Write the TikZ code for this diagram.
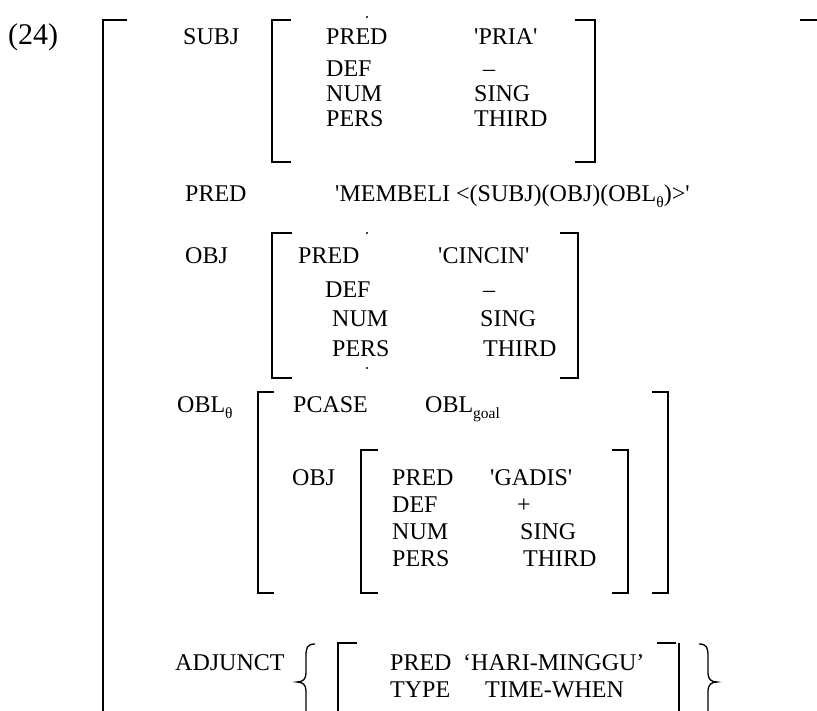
\documentclass[tikz,border=0pt]{standalone}
\usepackage{fontspec}
\setmainfont{Liberation Serif}[Ligatures=TeXOff]
% small lowered index, as in OBL with theta / goal
\newcommand\fsub[1]{\raisebox{-0.22em}{\fontsize{15.5}{15.5}\selectfont #1}}
% square bracket halves: x of the bar, top y, bottom y, x where the ticks end
\newcommand\leftbrk[4]{\draw[brk] (#4,#2) -- (#1,#2) -- (#1,#3) -- (#4,#3);}
\newcommand\rightbrk[4]{\draw[brk] (#4,#2) -- (#1,#2) -- (#1,#3) -- (#4,#3);}
\begin{document}
\begin{tikzpicture}[x=1pt,y=-1pt,
  txt/.style={anchor=base west, inner sep=0pt, font=\fontsize{24}{28}\selectfont},
  brk/.style={line width=1.5pt, line cap=butt, line join=miter},
  speck/.style={fill=black}]
\useasboundingbox (0,0) rectangle (817,711);

% example number and outer f-structure bracket
\node[txt, font=\fontsize{30}{34}\selectfont] (num) at (8,45) {(24)};
\draw[brk] (127,20) -- (103,20) -- (103,720);
\draw[brk] (800,20) -- (818,20) -- (818,720);

% SUBJ
\node[txt] (subj) at (183,45) {SUBJ};
\leftbrk{272}{20}{162}{291}
\rightbrk{595}{20}{162}{575}
\node[txt] (s-pred) at (326,45) {PRED};
\node[txt] (s-def)  at (326,77) {DEF};
\node[txt] (s-num)  at (326,102) {NUM};
\node[txt] (s-pers) at (326,127) {PERS};
\node[txt] (s-predv) at (474,45) {'PRIA'};
\node[txt] (s-defv)  at (483,77) {–};
\node[txt] (s-numv)  at (474,102) {SING};
\node[txt] (s-persv) at (474,127) {THIRD};
\fill[speck] (367,17) circle (1.1);

% main PRED
\node[txt] (pred) at (185,202) {PRED};
\node[txt] (predv) at (335,202) {'MEMBELI <(SUBJ)(OBJ)(OBL\fsub{θ})>'};

% OBJ
\node[txt] (obj) at (185,264) {OBJ};
\leftbrk{272}{233}{378}{292}
\rightbrk{578}{233}{378}{560}
\node[txt] (o-pred) at (298,264) {PRED};
\node[txt] (o-def)  at (325,298) {DEF};
\node[txt] (o-num)  at (332,327) {NUM};
\node[txt] (o-pers) at (332,356) {PERS};
\node[txt] (o-predv) at (438,264) {'CINCIN'};
\node[txt] (o-defv)  at (483,298) {–};
\node[txt] (o-numv)  at (480,327) {SING};
\node[txt] (o-persv) at (483,356) {THIRD};
\fill[speck] (367,233) circle (1.1);
\fill[speck] (367,368) circle (1.1);

% OBL theta
\node[txt] (obl) at (177,413) {OBL\fsub{θ}};
\leftbrk{258}{392}{593}{274}
\rightbrk{668}{392}{593}{652}
\node[txt] (pcase) at (293,413) {PCASE};
\node[txt] (pcasev) at (425,413) {OBL\fsub{goal}};

% OBL's OBJ
\node[txt] (g-obj) at (292,485) {OBJ};
\leftbrk{361}{450}{593}{378}
\rightbrk{628}{450}{593}{612}
\node[txt] (g-pred) at (392,485) {PRED};
\node[txt] (g-def)  at (392,512) {DEF};
\node[txt] (g-num)  at (392,539) {NUM};
\node[txt] (g-pers) at (392,566) {PERS};
\node[txt] (g-predv) at (490,485) {'GADIS'};
\node[txt] (g-defv)  at (517,512) {+};
\node[txt] (g-numv)  at (520,539) {SING};
\node[txt] (g-persv) at (523,566) {THIRD};

% ADJUNCT set
\node[txt] (adj) at (175,670) {ADJUNCT};
\draw[brk, line width=1.3pt] (315,644) .. controls (307,644) and (306,648) .. (306,656)
  -- (306,673) .. controls (306,679) and (303,682) .. (297,682)
  .. controls (303,682) and (306,685) .. (306,691) -- (306,720);
\draw[brk, line width=1.3pt] (699,644) .. controls (707,644) and (708,648) .. (708,656)
  -- (708,673) .. controls (708,679) and (711,682) .. (717,682)
  .. controls (711,682) and (708,685) .. (708,691) -- (708,720);
\draw[brk] (357,643) -- (338,643) -- (338,720);
\draw[brk] (657,643) -- (676,643);
\draw[brk] (679,643) -- (679,720);
\node[txt] (a-pred) at (390,670) {PRED};
\node[txt] (a-type) at (390,697) {TYPE};
\node[txt] (a-predv) at (463,670) {‘HARI-MINGGU’};
\node[txt] (a-typev) at (485,697) {TIME-WHEN};
\end{tikzpicture}
\end{document}
